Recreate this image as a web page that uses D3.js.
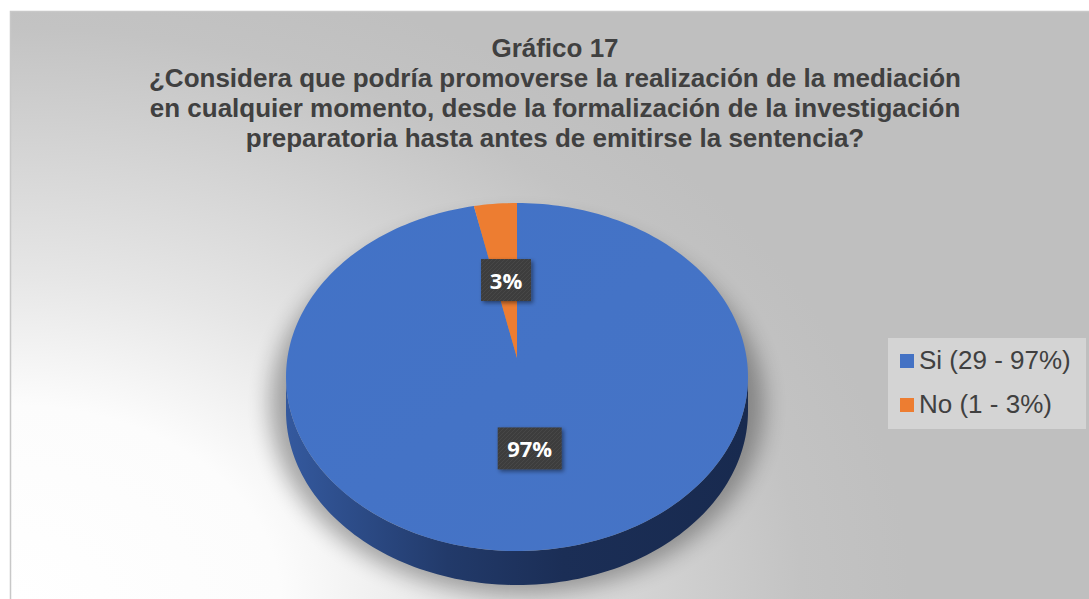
<!DOCTYPE html>
<html><head><meta charset="utf-8">
<script src="https://cdn.jsdelivr.net/npm/d3@7"></script>
<style>html,body{margin:0;padding:0;background:#fff;}svg{display:block;}</style>
</head><body>
<svg id="c" width="1089" height="599"></svg>
<script>
const titleLines = ["Gráfico 17",
  "¿Considera que podría promoverse la realización de la mediación",
  "en cualquier momento, desde la formalización de la investigación",
  "preparatoria hasta antes de emitirse la sentencia?"];
const categories = ["Si", "No"];
const counts = [29, 1];
const percents = [97, 3];
const colors = ["#4472c4", "#ed7d31"];

const W = 1089, H = 599;
const svg = d3.select("#c");
const defs = svg.append("defs");

// background gradient (elliptical, light in bottom-left corner)
const bg = defs.append("radialGradient").attr("id","bg").attr("gradientUnits","userSpaceOnUse")
  .attr("cx",0).attr("cy",0).attr("r",1).attr("gradientTransform","translate(10,600) scale(900,650)");
bg.append("stop").attr("offset","0").attr("stop-color","#ffffff");
bg.append("stop").attr("offset","0.3").attr("stop-color","#fcfcfc");
bg.append("stop").attr("offset","0.5").attr("stop-color","#e6e6e6");
bg.append("stop").attr("offset","0.88").attr("stop-color","#c3c3c3");
bg.append("stop").attr("offset","1").attr("stop-color","#bfbfbf");
svg.append("rect").attr("x",10.5).attr("y",11.5).attr("width",W).attr("height",H)
  .attr("fill","url(#bg)").attr("stroke","#c8c8c8").attr("stroke-width",1.5);

// title
const title = svg.append("text").attr("text-anchor","middle")
  .attr("font-family","Liberation Sans, Arial, sans-serif").attr("font-weight","bold")
  .attr("font-size",26).attr("fill","#404040");
titleLines.forEach((l,i)=>{
  title.append("tspan").attr("x",555).attr("y",57+i*30).text(l);
});

// pie geometry with perspective
const cx = 517, cy = 377, rx = 231, ry = 174, depth = 34, t = -0.109;
function proj(a, r) { // a: clockwise from top, r: 0..1
  const u = r*Math.sin(a), v = -r*Math.cos(a);
  const den = 1 + t*v;
  return [cx + rx*u*Math.sqrt(1-t*t)/den, cy + ry*(v+t)/den];
}
const pie = d3.pie().sort(null).value(d=>d)(counts);

// shadow
const sh = defs.append("filter").attr("id","sh").attr("x","-30%").attr("y","-30%").attr("width","160%").attr("height","160%");
sh.append("feGaussianBlur").attr("stdDeviation",11);
svg.append("ellipse").attr("cx",cx).attr("cy",cy+depth/2+12).attr("rx",rx+16).attr("ry",ry+14)
  .attr("fill","#000").attr("opacity",0.32).attr("filter","url(#sh)");

// side wall
const sideG = defs.append("linearGradient").attr("id","side").attr("x1",0).attr("x2",1).attr("y1",0).attr("y2",0);
sideG.append("stop").attr("offset","0").attr("stop-color","#34599e");
sideG.append("stop").attr("offset","0.35").attr("stop-color","#223a6a");
sideG.append("stop").attr("offset","0.6").attr("stop-color","#1b2e56");
sideG.append("stop").attr("offset","1").attr("stop-color","#182a4f");
const aEdge = Math.acos(t);
const sidePts = [];
const N = 120;
for (let i=0;i<=N;i++){ const a = aEdge + (2*Math.PI-2*aEdge)*i/N; sidePts.push(proj(a,1)); }
const lower = sidePts.map(p=>[p[0],p[1]+depth]).reverse();
svg.append("path").attr("d", d3.line()(sidePts.concat(lower))+"Z").attr("fill","url(#side)");

// top faces
const topG = defs.append("linearGradient").attr("id","topg").attr("x1",0).attr("x2",1).attr("y1",0).attr("y2",1);
topG.append("stop").attr("offset","0").attr("stop-color","#4272c6");
topG.append("stop").attr("offset","1").attr("stop-color","#4674c6");
pie.forEach((s,i)=>{
  const pts = [proj(0,0)];
  const n = Math.max(8, Math.ceil((s.endAngle-s.startAngle)*40));
  for (let k=0;k<=n;k++){ pts.push(proj(s.startAngle+(s.endAngle-s.startAngle)*k/n,1)); }
  svg.append("path").attr("d", d3.line()(pts)+"Z").attr("fill", i===0?"url(#topg)":colors[i]);
});

// data labels
const lsh = defs.append("filter").attr("id","lsh").attr("x","-30%").attr("y","-30%").attr("width","160%").attr("height","160%");
lsh.append("feDropShadow").attr("dx",2).attr("dy",2).attr("stdDeviation",2).attr("flood-color","#000").attr("flood-opacity",0.45);
const pat = defs.append("pattern").attr("id","lp").attr("width",4).attr("height",4).attr("patternUnits","userSpaceOnUse");
pat.append("rect").attr("width",4).attr("height",4).attr("fill","#3d3d3d");
pat.append("path").attr("d","M0,4L4,0").attr("stroke","#474747").attr("stroke-width",1);
const labelR = [0.5, 0.48];
pie.forEach((s,i)=>{
  const mid = (s.startAngle+s.endAngle)/2;
  const [x,y] = proj(mid, labelR[i]);
  const txt = percents[i]+"%";
  const w = i===0?64:50, h = 42;
  const g = svg.append("g");
  g.append("rect").attr("x",x-w/2).attr("y",y-h/2).attr("width",w).attr("height",h)
    .attr("fill","url(#lp)").attr("filter","url(#lsh)");
  g.append("text").attr("x",x).attr("y",y+9).attr("text-anchor","middle")
    .attr("font-family","Open Sans, DejaVu Sans, sans-serif").attr("font-weight","bold")
    .attr("font-size",22).attr("fill","#ffffff").text(txt);
});

// legend
svg.append("rect").attr("x",888).attr("y",338).attr("width",198).attr("height",91).attr("fill","#d4d4d4");
categories.forEach((c,i)=>{
  const y0 = 354 + i*44;
  svg.append("rect").attr("x",900).attr("y",y0).attr("width",14).attr("height",14).attr("fill",colors[i]);
  svg.append("text").attr("x",919).attr("y",y0+15).attr("font-family","Liberation Sans, Arial, sans-serif")
    .attr("font-size",26).attr("fill","#404040").text(`${c} (${counts[i]} - ${percents[i]}%)`);
});
</script>
</body></html>
